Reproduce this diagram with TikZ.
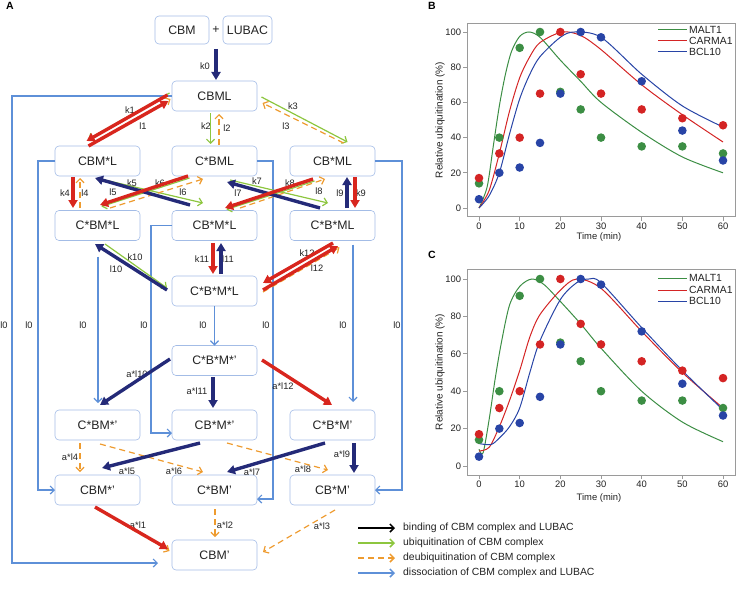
\documentclass[tikz,border=0pt]{standalone}
\usepackage{fontspec}
\setmainfont{Liberation Sans}
\usetikzlibrary{positioning,calc,arrows.meta}

\definecolor{boxline}{HTML}{A3BCE6}
\definecolor{txt}{HTML}{222222}
\definecolor{ubnavy}{HTML}{242A78}
\definecolor{ubred}{HTML}{D8261E}
\definecolor{ubgreen}{HTML}{8DC63F}
\definecolor{deorange}{HTML}{EE9B2F}
\definecolor{disblue}{HTML}{5E90D8}
\definecolor{framegray}{HTML}{9A9A9A}
\definecolor{maltc}{HTML}{3C8E44}
\definecolor{carmac}{HTML}{D42424}
\definecolor{bclc}{HTML}{2844A6}

\newcommand\maltpts{0/14,5/40,10/91,15/100,20/66,25/56,30/40,40/35,50/35,60/31}
\newcommand\carmapts{0/17,5/31,10/40,15/65,20/100,25/76,30/65,40/56,50/51,60/47}
\newcommand\bclpts{0/5,5/20,10/23,15/37,20/65,25/100,30/97,40/72,50/44,60/27}

\tikzset{
  species/.style={draw=boxline, line width=0.6pt, rounded corners=4pt, minimum width=85pt, minimum height=30pt, inner sep=1pt, outer sep=0pt, text=txt, font=\fontsize{12.3}{14}\selectfont},
  rate/.style={text=txt, inner sep=0pt, font=\fontsize{9.3}{11}\selectfont},
  fat/.style={line width=3.4pt, -{Triangle[length=8pt,width=9pt]}},
  ubq/.style={draw=ubgreen, line width=1.2pt, -{Straight Barb[length=4pt,width=8pt]}},
  deubq/.style={draw=deorange, line width=1.2pt, dash pattern=on 6pt off 4pt, -{Straight Barb[length=4pt,width=8pt]}},
  diss/.style={draw=disblue, line width=1.2pt, -{Straight Barb[length=4pt,width=8pt]}},
  legtext/.style={text=txt, inner sep=0pt, font=\fontsize{10.4}{12}\selectfont},
  frame/.style={draw=framegray, line width=0.8pt},
  ticklbl/.style={text=txt, inner sep=1.5pt, font=\fontsize{9.4}{11}\selectfont},
  curve/.style={line width=1pt},
  panel/.style={inner sep=0pt, font=\bfseries\fontsize{10.5}{12}\selectfont},
}

\newcommand\plotbox{%
  \draw[frame] (-2.95,-5) rectangle (62.95,105);
  \foreach \v in {0,20,...,100} \draw[frame] (-2.95,\v) -- ++(-4pt,0pt) node[ticklbl, left] {\v};
  \foreach \t in {0,10,...,60} \draw[frame] (\t,-5) -- ++(0pt,-4pt) node[ticklbl, below] {\t};
}

\begin{document}
\begin{tikzpicture}[x=1pt,y=-1pt]
\useasboundingbox (0,0) rectangle (743,599);

\node[panel] at (10,6) {A};
\node[panel] at (432,6) {B};
\node[panel] at (432,255) {C};

\node[species, minimum width=54pt, minimum height=28pt] (CBM) at (182,30) {CBM};
\node[species, minimum width=49pt, minimum height=28pt, right=14pt of CBM] (LUBAC) {LUBAC};
\node[inner sep=0pt, text=txt, font=\fontsize{12.3}{14}\selectfont] (plus) at ($(CBM.east)!0.5!(LUBAC.west)$) {+};
\node[species] (CBML) at (214.5,96) {CBML};
\node[species] (CBMsL) at (97.5,161) {CBM*L};
\node[species] (CsBML) at (214.5,161) {C*BML};
\node[species] (CBsML) at (332.5,161) {CB*ML};
\node[species] (CsBMsL) at (97.5,225.5) {C*BM*L};
\node[species] (CBsMsL) at (214.5,225.5) {CB*M*L};
\node[species] (CsBsML) at (332.5,225.5) {C*B*ML};
\node[species] (CsBsMsL) at (214.5,291) {C*B*M*L};
\node[species] (CsBsMsp) at (214.5,360.5) {C*B*M*'};
\node[species] (CsBMsp) at (97.5,425) {C*BM*'};
\node[species] (CBsMsp) at (214.5,425) {CB*M*'};
\node[species] (CsBsMp) at (332.5,425) {C*B*M'};
\node[species] (CBMsp) at (97.5,490) {CBM*'};
\node[species] (CsBMp) at (214.5,490) {C*BM'};
\node[species] (CBsMp) at (332.5,490) {CB*M'};
\node[species] (CBMp) at (214.5,555) {CBM'};

\draw[diss] (CBML.west) -- ++(-160,0) |- ($(CBMp.west)+(-14,8)$);
\draw[diss] (CBMsL.west) -- ++(-17,0) |- (CBMsp.west);
\draw[diss] ($(CsBMsL.south)+(0.5,16)$) -- ($(CsBMsp.north)+(0.5,-7)$);
\draw[diss] (CBsMsL.west) -- ++(-21,0) |- ($(CBsMsp.west)+(0,8)$);
\draw[diss] (CsBsMsL.south) -- (CsBsMsp.north);
\draw[diss] (CsBML.east) -- ++(16,0) |- ($(CsBMp.east)+(0,9)$);
\draw[diss] ($(CsBsML.south)+(20.5,4)$) -- ($(CsBsMp.north)+(20.5,-8)$);
\draw[diss] (CBsML.east) -- ++(27,0) |- (CBsMp.east);
\foreach \x in {4,29,83,144,203,266,343,397} \node[rate] at (\x,325) {l0};

\node[rate] at (205,66) {k0};
\node[rate] at (130,110) {k1};
\node[rate] at (143,126) {l1};
\node[rate] at (206,126) {k2};
\node[rate] at (227,128) {l2};
\node[rate] at (293,106) {k3};
\node[rate] at (286,126) {l3};
\node[rate] at (65,193) {k4};
\node[rate] at (85,193) {l4};
\node[rate] at (132,183) {k5};
\node[rate] at (113,192) {l5};
\node[rate] at (160,183) {k6};
\node[rate] at (183,192) {l6};
\node[rate] at (257,181) {k7};
\node[rate] at (238,193) {l7};
\node[rate] at (290,183) {k8};
\node[rate] at (319,191) {l8};
\node[rate] at (340,193) {l9};
\node[rate] at (361,193) {k9};
\node[rate] at (135,257) {k10};
\node[rate] at (116,269) {l10};
\node[rate] at (202,259) {k11};
\node[rate] at (228,259) {l11};
\node[rate] at (307,253) {k12};
\node[rate] at (317,268) {l12};
\node[rate] at (137,374) {a*l10};
\node[rate] at (197,391) {a*l11};
\node[rate] at (283,386) {a*l12};
\node[rate] at (70,457) {a*l4};
\node[rate] at (127,471) {a*l5};
\node[rate] at (174,471) {a*l6};
\node[rate] at (252,472) {a*l7};
\node[rate] at (303,469) {a*l8};
\node[rate] at (342,454) {a*l9};
\node[rate] at (138,525) {a*l1};
\node[rate] at (225,525) {a*l2};
\node[rate] at (322,526) {a*l3};

\draw[ubq] ($(CBML)+(-45,-3)$) -- ($(CBMsL)+(-9,-22)$);
\draw[deubq] ($(CBMsL)+(-7,-17)$) -- ($(CBML)+(-44,3)$);
\draw[ubq] ($(CBML)+(-4,17)$) -- ($(CsBML)+(-4,-17)$);
\draw[deubq] ($(CsBML)+(4.5,-16)$) -- ($(CBML)+(4.5,18)$);
\draw[ubq] ($(CBML)+(47,1)$) -- ($(CBsML)+(15,-19)$);
\draw[deubq] ($(CBsML)+(11,-18)$) -- ($(CBML)+(48,7)$);
\draw[deubq] ($(CsBMsL)+(-17.5,-17.5)$) -- ($(CBMsL)+(-17.5,17)$);
\draw[ubq] ($(CBMsL)+(3,18)$) -- ($(CBsMsL)+(-11.5,-22.5)$);
\draw[ubq] ($(CsBML)+(-25,17)$) -- ($(CsBMsL)+(4,-19)$);
\draw[deubq] ($(CsBMsL)+(12.5,-17.5)$) -- ($(CsBML)+(-11.5,18)$);
\draw[ubq] ($(CsBML)+(15.5,19)$) -- ($(CsBsML)+(-4.5,-22.5)$);
\draw[ubq] ($(CBsML)+(-18,20)$) -- ($(CBsMsL)+(12,-16)$);
\draw[deubq] ($(CBsMsL)+(25.5,-17.5)$) -- ($(CBsML)+(-7.5,18)$);
\draw[ubq] ($(CsBMsL)+(7.5,18.5)$) -- ($(CsBsMsL)+(-47.5,-3)$);
\draw[deubq] ($(CsBsMsL)+(48.5,1)$) -- ($(CsBsML)+(7,22)$);
\draw[deubq] ($(CsBMsp)+(-17.5,18)$) -- ($(CBMsp)+(-17.5,-18)$);
\draw[deubq] ($(CsBMsp)+(2.5,19)$) -- ($(CsBMp)+(-11.5,-18)$);
\draw[deubq] ($(CBsMsp)+(12.5,18)$) -- ($(CBsMp)+(-4.5,-20)$);
\draw[deubq] ($(CBMsp)+(-1,19)$) -- ($(CBMp)+(-45,-4)$);
\draw[deubq] ($(CsBMp)+(0.5,19)$) -- ($(CBMp)+(0.5,-18)$);
\draw[deubq] ($(CBsMp)+(2.5,20)$) -- ($(CBMp)+(48.5,-3)$);

\draw[fat, ubnavy] ($(plus)+(0,19)$) -- ($(CBML)+(1.5,-16)$);
\draw[fat, ubred] ($(CBML)+(-47,-1)$) -- ($(CBMsL)+(-11,-20)$);
\draw[fat, ubred] ($(CBMsL)+(-9,-15)$) -- ($(CBML)+(-46,5)$);
\draw[fat, ubred] ($(CBMsL)+(-24.5,16)$) -- ($(CsBMsL)+(-24.5,-17.5)$);
\draw[fat, ubnavy] ($(CBsMsL)+(-24.5,-20.5)$) -- ($(CBMsL)+(-2.5,17)$);
\draw[fat, ubred] ($(CsBML)+(-26.5,15)$) -- ($(CsBMsL)+(2.5,-20.5)$);
\draw[fat, ubnavy] ($(CsBsML)+(-12.5,-17.5)$) -- ($(CsBML)+(12.5,21)$);
\draw[fat, ubred] ($(CBsML)+(-19.5,18)$) -- ($(CBsMsL)+(10.5,-17.5)$);
\draw[fat, ubred] ($(CBsML)+(22.5,16)$) -- ($(CsBsML)+(22.5,-17.5)$);
\draw[fat, ubnavy] ($(CsBsML)+(14.5,-17.5)$) -- ($(CBsML)+(14.5,16)$);
\draw[fat, ubnavy] ($(CsBsMsL)+(-47.5,-1)$) -- ($(CsBMsL)+(-2.5,18.5)$);
\draw[fat, ubred] ($(CBsMsL)+(-1.5,17.5)$) -- ($(CsBsMsL)+(-1.5,-17)$);
\draw[fat, ubnavy] ($(CsBsMsL)+(6.5,-17)$) -- ($(CBsMsL)+(6.5,17.5)$);
\draw[fat, ubred] ($(CsBsML)+(0.5,17.5)$) -- ($(CsBsMsL)+(48.5,-8)$);
\draw[fat, ubred] ($(CsBsMsL)+(48.5,-1)$) -- ($(CsBsML)+(5.5,20.5)$);
\draw[fat, ubnavy] ($(CsBsMsp)+(-44.5,-1.5)$) -- ($(CsBMsp)+(2.5,-20)$);
\draw[fat, ubnavy] ($(CsBsMsp)+(-1.5,16.5)$) -- ($(CBsMsp)+(-1.5,-17)$);
\draw[fat, ubred] ($(CsBsMsp)+(47.5,-0.5)$) -- ($(CsBsMp)+(-0.5,-20)$);
\draw[fat, ubnavy] ($(CBsMsp)+(-14.5,18)$) -- ($(CBMsp)+(4.5,-22)$);
\draw[fat, ubnavy] ($(CsBsMp)+(-7.5,18)$) -- ($(CsBMp)+(12.5,-18)$);
\draw[fat, ubnavy] ($(CsBsMp)+(21.5,18)$) -- ($(CBsMp)+(21.5,-17)$);
\draw[fat, ubred] ($(CBMsp)+(-2.5,17)$) -- ($(CBMp)+(-46.5,-6)$);

\node[legtext, anchor=west] (legbind) at (403,528) {binding of CBM complex and LUBAC};
\node[legtext, anchor=west] (legubq) at (403,543) {ubiquitination of CBM complex};
\node[legtext, anchor=west] (legdeubq) at (403,558) {deubiquitination of CBM complex};
\node[legtext, anchor=west] (legdiss) at (403,573) {dissociation of CBM complex and LUBAC};
\draw[black, line width=1.5pt, -{Straight Barb[length=4pt,width=8pt]}] ($(legbind.west)+(-45,0)$) -- ($(legbind.west)+(-8,0)$);
\draw[ubq, line width=1.5pt] ($(legubq.west)+(-45,0)$) -- ($(legubq.west)+(-8,0)$);
\draw[deubq, line width=1.5pt] ($(legdeubq.west)+(-45,0)$) -- ($(legdeubq.west)+(-8,0)$);
\draw[diss, line width=1.5pt] ($(legdiss.west)+(-45,0)$) -- ($(legdiss.west)+(-8,0)$);

\begin{scope}[shift={(479,208)}, x=4.067pt, y=1.76pt]
  \plotbox
  \draw[curve, maltc] plot[smooth] coordinates {(0,0) (2,12) (3.5,35) (5,58) (6.5,76) (8,89) (10,97.5) (12.3,100) (15,97) (20,84) (25,72) (30,60) (40,43) (50,29) (60,20)};
  \draw[curve, carmac] plot[smooth] coordinates {(0,0) (2.5,10) (5,31) (7.5,55) (10,74) (12.5,86) (15,94) (20.4,100) (25,98) (30,90) (40,70) (50,53) (60,37.5)};
  \draw[curve, bclc] plot[smooth] coordinates {(0,0) (2.5,7) (5,20) (7.5,42) (10,62) (12.5,76) (15,86) (20,97) (23.5,100) (30,97) (40,76) (50,58) (60,46)};
  \foreach \t/\v in \maltpts \fill[maltc] (\t,\v) circle[radius=4.3pt];
  \foreach \t/\v in \carmapts \fill[carmac] (\t,\v) circle[radius=4.3pt];
  \foreach \t/\v in \bclpts \fill[bclc] (\t,\v) circle[radius=4.3pt];
\end{scope}
\node[ticklbl] at (599,237) {Time (min)};
\node[ticklbl, rotate=90, font=\fontsize{10}{12}\selectfont] at (440,120) {Relative ubiquitination (\%)};
\node[legtext, anchor=west] (bmalt) at (689,30) {MALT1};
\node[legtext, anchor=west] (bcarma) at (689,41) {CARMA1};
\node[legtext, anchor=west] (bbcl) at (689,52) {BCL10};
\draw[curve, maltc] ($(bmalt.west)+(-31,0)$) -- ($(bmalt.west)+(-2,0)$);
\draw[curve, carmac] ($(bcarma.west)+(-31,0)$) -- ($(bcarma.west)+(-2,0)$);
\draw[curve, bclc] ($(bbcl.west)+(-31,0)$) -- ($(bbcl.west)+(-2,0)$);

\begin{scope}[shift={(479,466)}, x=4.067pt, y=1.87pt]
  \plotbox
  \draw[curve, maltc] plot[smooth] coordinates {(0,9) (1,7) (2.5,25) (4,47) (5.5,66) (7.5,86) (10,96) (13,100) (16,97) (20,88) (25,76) (30,63) (40,40) (50,23.5) (60,13)};
  \draw[curve, carmac] plot[smooth] coordinates {(0,8) (2.5,10) (5,21) (7.5,35) (10,51) (12.5,69) (15,81) (20,94) (24,100) (30,95) (40,72) (50,50) (60,31)};
  \draw[curve, bclc] plot[smooth] coordinates {(0,12) (3,11.5) (5,15) (7.5,21) (10,31) (12.5,50) (15,67) (20,89) (24,98) (27,100) (30,98) (40,74) (50,51) (60,30)};
  \foreach \t/\v in \maltpts \fill[maltc] (\t,\v) circle[radius=4.3pt];
  \foreach \t/\v in \carmapts \fill[carmac] (\t,\v) circle[radius=4.3pt];
  \foreach \t/\v in \bclpts \fill[bclc] (\t,\v) circle[radius=4.3pt];
\end{scope}
\node[ticklbl] at (599,498) {Time (min)};
\node[ticklbl, rotate=90, font=\fontsize{10}{12}\selectfont] at (440,372) {Relative ubiquitination (\%)};
\node[legtext, anchor=west] (cmalt) at (689,278) {MALT1};
\node[legtext, anchor=west] (ccarma) at (689,290) {CARMA1};
\node[legtext, anchor=west] (cbcl) at (689,301) {BCL10};
\draw[curve, maltc] ($(cmalt.west)+(-31,0)$) -- ($(cmalt.west)+(-2,0)$);
\draw[curve, carmac] ($(ccarma.west)+(-31,0)$) -- ($(ccarma.west)+(-2,0)$);
\draw[curve, bclc] ($(cbcl.west)+(-31,0)$) -- ($(cbcl.west)+(-2,0)$);
\end{tikzpicture}
\end{document}
